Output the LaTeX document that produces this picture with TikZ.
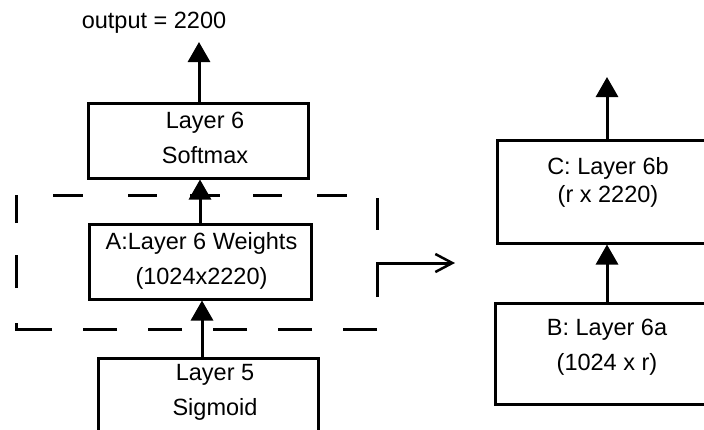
\documentclass[tikz,border=0pt]{standalone}
\usepackage{fontspec}
\setmainfont{Liberation Sans}
\usetikzlibrary{arrows.meta}

\begin{document}
\begin{tikzpicture}[x=1pt, y=-1pt,
  box/.style={draw, rectangle, line width=3pt, inner sep=0pt},
  lbl/.style={font=\fontsize{23.5}{35}\selectfont, align=center, inner sep=0pt},
  flow/.style={-{Triangle[length=20pt,width=22pt]}, line width=3pt},
  hop/.style={-{Straight Barb[length=17pt,width=18pt,line width=2.5pt]}, line width=3pt},
  grp/.style={line width=3pt}]

\useasboundingbox (0,0) rectangle (704,429);
\clip (0,0) rectangle (704,429);

% left column: original layers
\node[box, minimum width=220pt, minimum height=75pt]  (soft)    at (198,140.5) {};
\node[box, minimum width=222pt, minimum height=75pt]  (weights) at (200,261.5) {};
\node[box, minimum width=220pt, minimum height=100pt] (l5)      at (208,408)   {};

\node[lbl] (outlbl)   at (154,23)     {output = 2200};
\node[lbl] (softtxt)  at (205,137.5)  {Layer 6\\Softmax};
\node[lbl] (wtxt)     at (201.5,260.5){A:Layer 6 Weights\\(1024x2220)};
\node[lbl] (l5txt)    at (215,392.5)  {Layer 5\\Sigmoid};

% right column: factorised layer
\node[box, minimum width=222pt, minimum height=103pt] (lc) at (608,191.5) {};
\node[box, minimum width=224pt, minimum height=101pt] (lb) at (607,353.5) {};

\node[lbl] (lctxt) at (608,182.5) {C: Layer 6b\\[-7pt](r x 2220)};
\node[lbl] (lbtxt) at (607,347.5) {B: Layer 6a\\(1024 x r)};

% free ends of connectors
\coordinate (outtip) at (199,42);
\coordinate (ctip)   at (607,77);
\coordinate (grpSW)  at (16,329);
\coordinate (grpNE)  at (377,195);
\coordinate (hopstart) at (377,297);
\coordinate (hopend)   at (455,263);

% dashed frame around the weight matrix
\draw[grp, dash pattern=on 34pt off 31pt on 34pt off 31pt on 34pt off 31pt on 34pt off 31pt on 34pt off 31pt on 42pt off 35pt on 33pt off 32pt on 30pt]
  (grpNE |- grpSW) -- (grpSW) -- (grpSW |- grpNE);
\draw[grp, dash pattern=on 0pt off 37pt on 30pt off 45pt on 29pt off 33pt on 30pt off 33pt on 29pt off 35pt on 30pt off 33pt on 32pt]
  (grpSW |- grpNE) -- (grpNE) -- ++(0,35);

% connectors
\draw[flow] (soft.north -| outtip) -- (outtip);
\draw[flow] (weights.north) -- (weights.north |- soft.south);
\draw[flow] (l5.north -| 202,0) -- (202,0 |- weights.south);
\draw[hop]  (hopstart) |- (hopend);
\draw[flow] (lc.north -| ctip) -- (ctip);
\draw[flow] (lb.north) -- (lb.north |- lc.south);

\end{tikzpicture}
\end{document}
